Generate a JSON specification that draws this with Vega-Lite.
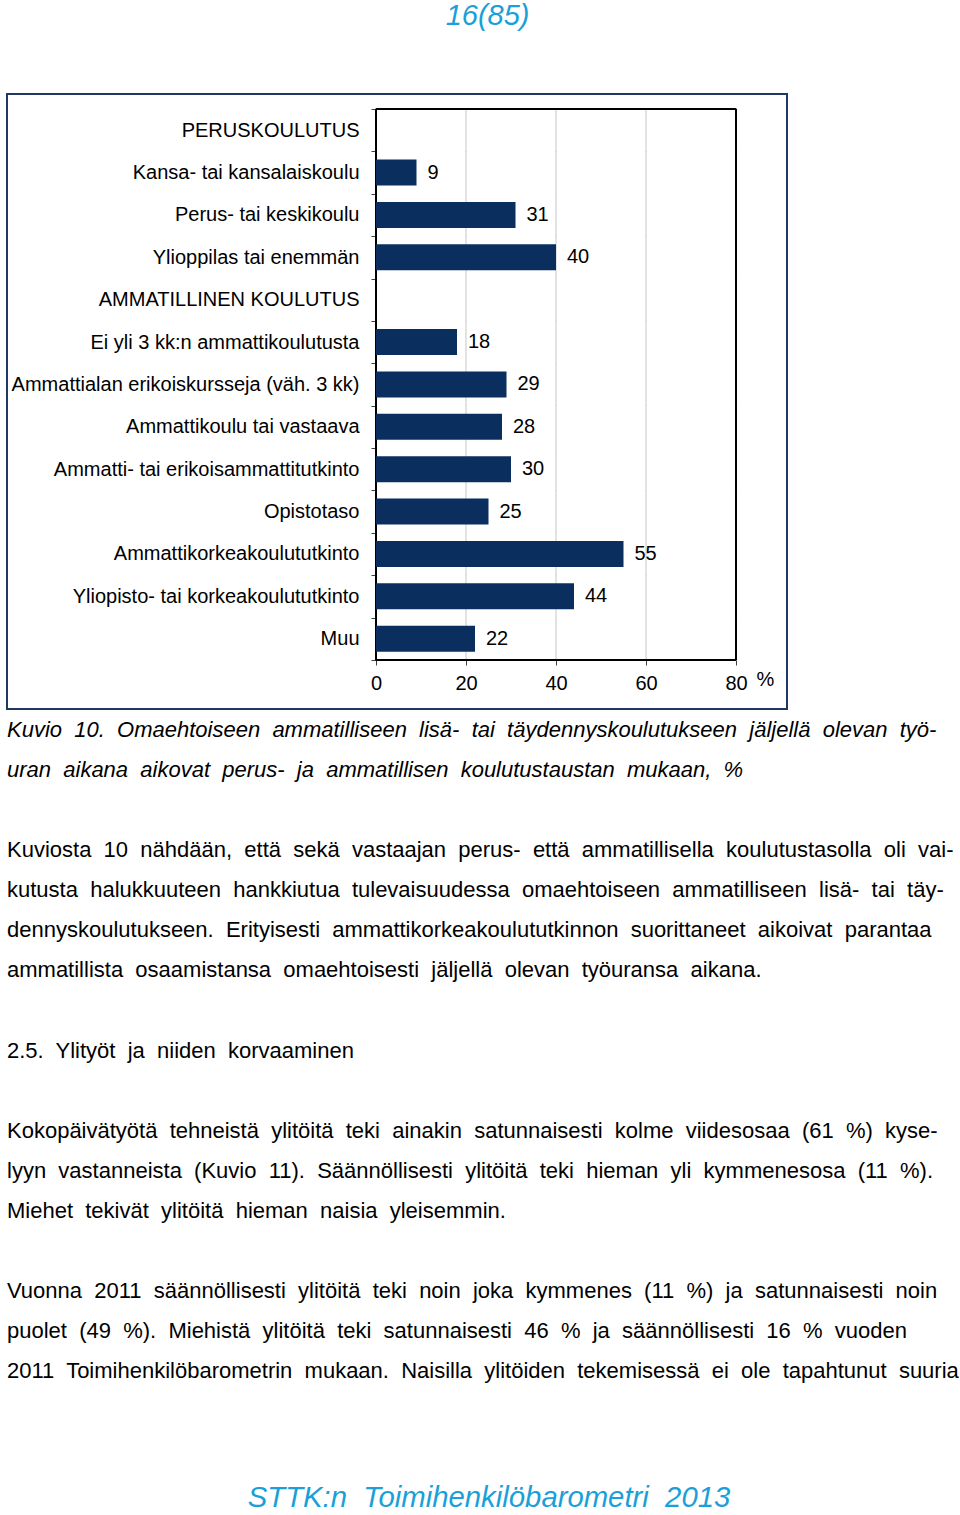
{
  "$schema": "https://vega.github.io/schema/vega-lite/v6.json",
  "background": "white",
  "padding": {"left": 6, "top": 2, "right": 0, "bottom": 0},
  "title": {"text": "16(85)", "anchor": "middle", "font": "Liberation Sans", "fontSize": 29, "fontStyle": "italic", "fontWeight": "normal", "color": "#1b9fd8", "offset": 52, "dx": 5},
  "spacing": 0,
  "config": {"font": "Liberation Sans", "view": {"stroke": null}, "mark": {"invalid": "show"}},
  "datasets": {
    "bars": [
      {"category": "PERUSKOULUTUS", "value": null},
      {"category": "Kansa- tai kansalaiskoulu", "value": 9},
      {"category": "Perus- tai keskikoulu", "value": 31},
      {"category": "Ylioppilas tai enemmän", "value": 40},
      {"category": "AMMATILLINEN KOULUTUS", "value": null},
      {"category": "Ei yli 3 kk:n ammattikoulutusta", "value": 18},
      {"category": "Ammattialan erikoiskursseja (väh. 3 kk)", "value": 29},
      {"category": "Ammattikoulu tai vastaava", "value": 28},
      {"category": "Ammatti- tai erikoisammattitutkinto", "value": 30},
      {"category": "Opistotaso", "value": 25},
      {"category": "Ammattikorkeakoulututkinto", "value": 55},
      {"category": "Yliopisto- tai korkeakoulututkinto", "value": 44},
      {"category": "Muu", "value": 22}
    ],
    "text": [
      {"line": 0, "kind": "caption", "text": "Kuvio\u00a0 10.\u00a0 Omaehtoiseen\u00a0 ammatilliseen\u00a0 lisä-\u00a0 tai\u00a0 täydennyskoulutukseen\u00a0 jäljellä\u00a0 olevan\u00a0 työ-"},
      {"line": 1, "kind": "caption", "text": "uran\u00a0 aikana\u00a0 aikovat\u00a0 perus-\u00a0 ja\u00a0 ammatillisen\u00a0 koulutustaustan\u00a0 mukaan,\u00a0 %"},
      {"line": 3, "kind": "body", "text": "Kuviosta\u00a0 10\u00a0 nähdään,\u00a0 että\u00a0 sekä\u00a0 vastaajan\u00a0 perus-\u00a0 että\u00a0 ammatillisella\u00a0 koulutustasolla\u00a0 oli\u00a0 vai-"},
      {"line": 4, "kind": "body", "text": "kutusta\u00a0 halukkuuteen\u00a0 hankkiutua\u00a0 tulevaisuudessa\u00a0 omaehtoiseen\u00a0 ammatilliseen\u00a0 lisä-\u00a0 tai\u00a0 täy-"},
      {"line": 5, "kind": "body", "text": "dennyskoulutukseen.\u00a0 Erityisesti\u00a0 ammattikorkeakoulututkinnon\u00a0 suorittaneet\u00a0 aikoivat\u00a0 parantaa"},
      {"line": 6, "kind": "body", "text": "ammatillista\u00a0 osaamistansa\u00a0 omaehtoisesti\u00a0 jäljellä\u00a0 olevan\u00a0 työuransa\u00a0 aikana."},
      {"line": 8, "kind": "body", "text": "2.5.\u00a0 Ylityöt\u00a0 ja\u00a0 niiden\u00a0 korvaaminen"},
      {"line": 10, "kind": "body", "text": "Kokopäivätyötä\u00a0 tehneistä\u00a0 ylitöitä\u00a0 teki\u00a0 ainakin\u00a0 satunnaisesti\u00a0 kolme\u00a0 viidesosaa\u00a0 (61\u00a0 %)\u00a0 kyse-"},
      {"line": 11, "kind": "body", "text": "lyyn\u00a0 vastanneista\u00a0 (Kuvio\u00a0 11).\u00a0 Säännöllisesti\u00a0 ylitöitä\u00a0 teki\u00a0 hieman\u00a0 yli\u00a0 kymmenesosa\u00a0 (11\u00a0 %)."},
      {"line": 12, "kind": "body", "text": "Miehet\u00a0 tekivät\u00a0 ylitöitä\u00a0 hieman\u00a0 naisia\u00a0 yleisemmin."},
      {"line": 14, "kind": "body", "text": "Vuonna\u00a0 2011\u00a0 säännöllisesti\u00a0 ylitöitä\u00a0 teki\u00a0 noin\u00a0 joka\u00a0 kymmenes\u00a0 (11\u00a0 %)\u00a0 ja\u00a0 satunnaisesti\u00a0 noin"},
      {"line": 15, "kind": "body", "text": "puolet\u00a0 (49\u00a0 %).\u00a0 Miehistä\u00a0 ylitöitä\u00a0 teki\u00a0 satunnaisesti\u00a0 46\u00a0 %\u00a0 ja\u00a0 säännöllisesti\u00a0 16\u00a0 %\u00a0 vuoden"},
      {"line": 16, "kind": "body", "text": "2011\u00a0 Toimihenkilöbarometrin\u00a0 mukaan.\u00a0 Naisilla\u00a0 ylitöiden\u00a0 tekemisessä\u00a0 ei\u00a0 ole\u00a0 tapahtunut\u00a0 suuria"}
    ]
  },
  "vconcat": [
    {
      "width": 780,
      "height": 615,
      "view": {"stroke": "#1f3864", "strokeWidth": 2},
      "data": {"name": "bars"},
      "encoding": {
        "y": {
          "field": "category", "type": "nominal", "sort": null,
          "scale": {
            "domain": ["PERUSKOULUTUS", "Kansa- tai kansalaiskoulu", "Perus- tai keskikoulu", "Ylioppilas tai enemmän", "AMMATILLINEN KOULUTUS", "Ei yli 3 kk:n ammattikoulutusta", "Ammattialan erikoiskursseja (väh. 3 kk)", "Ammattikoulu tai vastaava", "Ammatti- tai erikoisammattitutkinto", "Opistotaso", "Ammattikorkeakoulututkinto", "Yliopisto- tai korkeakoulututkinto", "Muu"],
            "paddingInner": 0, "paddingOuter": 0.756, "align": 0.234
          },
          "axis": {"title": null, "offset": -369, "labelFontSize": 20, "labelColor": "#000000", "labelPadding": 12, "tickSize": 5, "tickColor": "#404040", "tickBand": "extent", "domain": false, "grid": false, "labelLimit": 400}
        }
      },
      "layer": [
        {"mark": {"type": "tick", "orient": "vertical", "size": 43, "thickness": 1, "color": "#c8c8c8", "opacity": 1}, "encoding": {"x": {"datum": 20}}},
        {"mark": {"type": "tick", "orient": "vertical", "size": 43, "thickness": 1, "color": "#c8c8c8", "opacity": 1}, "encoding": {"x": {"datum": 40}}},
        {"mark": {"type": "tick", "orient": "vertical", "size": 43, "thickness": 1, "color": "#c8c8c8", "opacity": 1}, "encoding": {"x": {"datum": 60}}},
        {"mark": {"type": "tick", "orient": "vertical", "size": 43, "thickness": 2, "color": "#000000", "opacity": 1}, "encoding": {"x": {"datum": 0}}},
        {"mark": {"type": "tick", "orient": "vertical", "size": 43, "thickness": 2, "color": "#000000", "opacity": 1}, "encoding": {"x": {"datum": 80}}},
        {
          "transform": [{"filter": "datum.category === 'PERUSKOULUTUS'"}],
          "mark": {"type": "rule", "color": "#000000", "strokeWidth": 2},
          "encoding": {"x": {"datum": 0}, "x2": {"datum": 80}, "y": {"field": "category", "type": "nominal", "sort": null, "bandPosition": 0}}
        },
        {
          "transform": [{"filter": "datum.category === 'Muu'"}],
          "mark": {"type": "rule", "color": "#000000", "strokeWidth": 2},
          "encoding": {"x": {"datum": 0}, "x2": {"datum": 80}, "y": {"field": "category", "type": "nominal", "sort": null, "bandPosition": 1}}
        },
        {
          "transform": [{"filter": "isValid(datum.value)"}],
          "mark": {"type": "bar", "color": "#0a2f5f", "height": {"band": 0.614}},
          "encoding": {
            "x": {
              "field": "value", "type": "quantitative",
              "scale": {"domain": [-82, 91.333], "nice": false, "zero": true},
              "axis": {"values": [0, 20, 40, 60, 80], "offset": -49, "title": "%", "labelFontSize": 20, "labelColor": "#000000", "labelPadding": 8, "labelFlush": false, "tickSize": 5, "tickColor": "#404040", "domain": false, "grid": false, "titleFontSize": 20, "titleFontWeight": "normal", "titleColor": "#000000", "titleX": 758, "titleY": 25, "titleAlign": "center", "titleBaseline": "alphabetic"}
            },
            "x2": {"datum": 0}
          }
        },
        {
          "transform": [{"filter": "isValid(datum.value)"}],
          "mark": {"type": "text", "align": "left", "baseline": "middle", "dx": 11, "fontSize": 20, "color": "#000000"},
          "encoding": {
            "x": {"field": "value", "type": "quantitative"},
            "text": {"field": "value", "type": "quantitative"}
          }
        }
      ]
    },
    {
      "width": 950,
      "height": 681,
      "view": {"stroke": null},
      "data": {"name": "text"},
      "title": {"text": "STTK:n\u00a0 Toimihenkilöbarometri\u00a0 2013", "orient": "bottom", "anchor": "middle", "frame": "group", "font": "Liberation Sans", "fontSize": 29.3, "fontStyle": "italic", "fontWeight": "normal", "color": "#1b9fd8", "offset": 93, "dx": 7},
      "encoding": {
        "y": {"field": "line", "type": "quantitative", "scale": {"domain": [-0.5, 16.5], "reverse": true, "nice": false, "zero": false}, "axis": null},
        "x": {"value": 0},
        "text": {"field": "text", "type": "nominal"}
      },
      "layer": [
        {
          "transform": [{"filter": "datum.kind === 'caption'"}],
          "mark": {"type": "text", "align": "left", "baseline": "middle", "font": "Liberation Sans", "fontStyle": "italic", "fontSize": 22, "color": "#000000"}
        },
        {
          "transform": [{"filter": "datum.kind === 'body'"}],
          "mark": {"type": "text", "align": "left", "baseline": "middle", "font": "Liberation Sans", "fontSize": 22, "color": "#000000"}
        }
      ]
    }
  ]
}
